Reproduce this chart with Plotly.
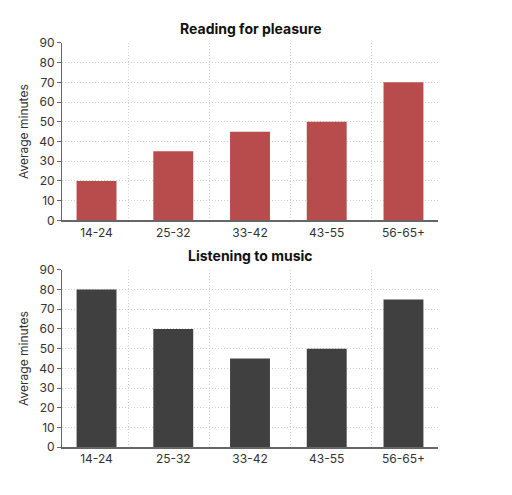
import plotly.graph_objects as go

categories = ["14-24", "25-32", "33-42", "43-55", "56-65+"]
reading = [20, 35, 45, 50, 70]
music = [80, 60, 45, 50, 75]
titles = ["Reading for pleasure", "Listening to music"]
y_ticks = list(range(0, 100, 10))
vgrid = [66, 147, 228, 309]

W, H = 512, 495
FONT = "Inter, Roboto, Arial, sans-serif"

fig = go.Figure()
fig.add_trace(go.Bar(x=categories, y=reading, marker=dict(color="#b84b4b", line=dict(width=0)),
                     width=0.52, xaxis="x", yaxis="y", showlegend=False))
fig.add_trace(go.Bar(x=categories, y=music, marker=dict(color="#404040", line=dict(width=0)),
                     width=0.52, xaxis="x2", yaxis="y2", showlegend=False))

xdom = [62 / W, 438 / W]
top_dom = [1 - 219 / H, 1 - 36 / H]
bot_dom = [1 - 453 / H, 1 - 270 / H]

common_x = dict(type="category", range=[-0.45, 4.45], showgrid=False, showline=True,
                linecolor="#666666", linewidth=1.5, ticks="", tickfont=dict(size=12, color="#333333", family=FONT))
common_y = dict(range=[0, 90], tickvals=y_ticks, showgrid=True, gridcolor="#cfcfcf", griddash="1px,2px",
                gridwidth=1, showline=True, linecolor="#666666", linewidth=1, ticks="outside", ticklen=4,
                tickcolor="#666666", zeroline=False, tickfont=dict(size=12, color="#333333", family=FONT),
                title=dict(text="Average minutes", font=dict(size=12, color="#333333", family=FONT), standoff=8))
grid_x = dict(range=[0, 376], tickvals=vgrid, showticklabels=False, showgrid=True, gridcolor="#cfcfcf",
              griddash="1px,2px", gridwidth=1, zeroline=False, showline=False, ticks="")

fig.update_layout(
    width=W, height=H, margin=dict(l=0, r=0, t=0, b=0),
    paper_bgcolor="white", plot_bgcolor="rgba(0,0,0,0)",
    xaxis=dict(domain=xdom, anchor="y", **common_x),
    yaxis=dict(domain=top_dom, anchor="x", **common_y),
    xaxis2=dict(domain=xdom, anchor="y2", **common_x),
    yaxis2=dict(domain=bot_dom, anchor="x2", **common_y),
    xaxis3=dict(domain=xdom, anchor="y", overlaying="x", layer="below traces", **grid_x),
    xaxis4=dict(domain=xdom, anchor="y2", overlaying="x2", layer="below traces", **grid_x),
    bargap=0.48,
)
# invisible traces to activate grid axes
fig.add_trace(go.Scatter(x=[0], y=[0], xaxis="x3", yaxis="y", mode="markers",
                         marker=dict(opacity=0), showlegend=False, hoverinfo="skip"))
fig.add_trace(go.Scatter(x=[0], y=[0], xaxis="x4", yaxis="y2", mode="markers",
                         marker=dict(opacity=0), showlegend=False, hoverinfo="skip"))

for t, yy in zip(titles, [1 - 21 / H, 1 - 255 / H]):
    fig.add_annotation(text="<b>" + t + "</b>", x=0.5 * (xdom[0] + xdom[1]), y=yy, xref="paper", yref="paper",
                       showarrow=False, font=dict(size=14, color="#111111", family=FONT),
                       xanchor="center", yanchor="middle")

fig.write_html("out.html")
